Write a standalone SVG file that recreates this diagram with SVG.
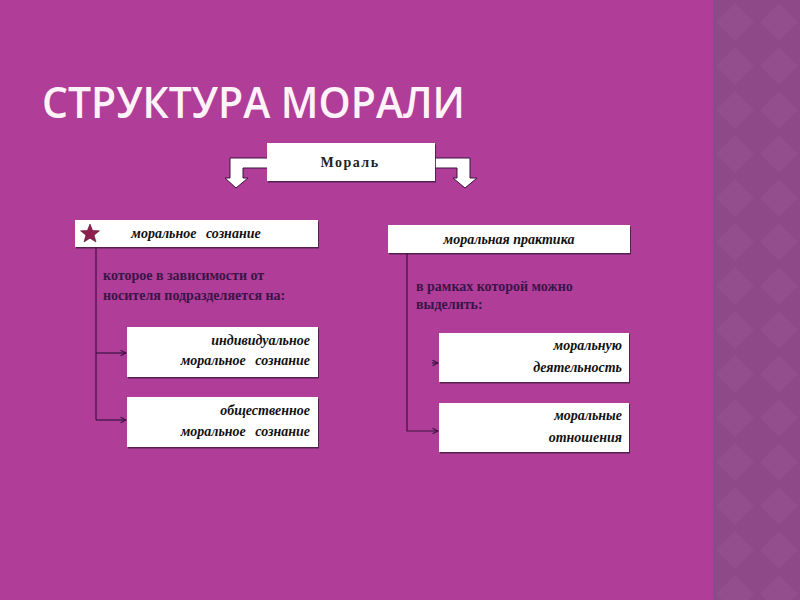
<svg xmlns="http://www.w3.org/2000/svg" width="800" height="600" viewBox="0 0 800 600">
<defs>
<pattern id="dia" x="713" y="0" width="44" height="44" patternUnits="userSpaceOnUse">
<rect width="44" height="44" fill="#8e4a88"/>
<polygon points="22,3 41,22 22,41 3,22" fill="#934e8d"/>
</pattern>
<marker id="ah" viewBox="0 0 8 8" refX="7" refY="4" markerWidth="6" markerHeight="6" orient="auto">
<path d="M1,1 L7,4 L1,7" fill="none" stroke="#3b1240" stroke-width="1.2"/>
</marker>
<filter id="sh" x="-5%" y="-10%" width="110%" height="130%">
<feDropShadow dx="1" dy="1.5" stdDeviation="0.6" flood-color="#3b1240" flood-opacity="0.8"/>
</filter>
</defs>
<style>
.box{fill:#ffffff;filter:url(#sh)}
.lbl{font-family:"Liberation Serif",serif;font-weight:bold;font-style:italic;font-size:14px;fill:#111}
.note{font-family:"Liberation Serif",serif;font-weight:bold;font-size:14px;fill:#3a1448}
.ln{fill:none;stroke:#3b1240;stroke-width:1.2}
.arr{fill:#ffffff;stroke:#3b1240;stroke-width:1}
</style>
<rect width="800" height="600" fill="#b03d98"/>
<rect x="713" y="0" width="87" height="600" fill="url(#dia)"/>
<text x="42" y="118" font-family="'Open Sans','DejaVu Sans',sans-serif" font-size="44" font-weight="600" fill="#fff3fa" textLength="423" lengthAdjust="spacingAndGlyphs">СТРУКТУРА МОРАЛИ</text>

<g id="connectors">
<path class="arr" d="M267,158 L230,158 L230,178 L225,178 L236,188 L248,178 L243,178 L243,168 L267,168"/>
<path class="arr" d="M435,158 L470,158 L470,178 L477,178 L465,188 L453,178 L457,178 L457,168 L435,168"/>
<path class="ln" d="M96,247 V420"/>
<path class="ln" d="M96,353 H126" marker-end="url(#ah)"/>
<path class="ln" d="M96,420 H126" marker-end="url(#ah)"/>
<path class="ln" d="M407,253 V431 H438" marker-end="url(#ah)"/>
<path class="ln" d="M432,363 H438" marker-end="url(#ah)"/>
</g>

<g id="n-moral">
<rect class="box" x="267" y="143" width="168" height="38"/>
<text x="350" y="167" text-anchor="middle" font-family="'Liberation Serif',serif" font-weight="bold" font-size="14" letter-spacing="1.5" fill="#222">Мораль</text>
</g>

<g id="n-soznanie">
<rect class="box" x="75" y="220" width="243" height="27"/>
<polygon points="90,224 92.6,230.5 99.5,230.8 94.1,235.2 96,242 90,238.2 84,242 85.9,235.2 80.5,230.8 87.4,230.5" fill="#8e1f4e" stroke="#5a1030" stroke-width="0.6"/>
<text class="lbl" x="196" y="238" text-anchor="middle" word-spacing="6">моральное сознание</text>
</g>

<g id="n-note-left">
<text class="note" x="103" y="280">которое в зависимости от</text>
<text class="note" x="103" y="300">носителя подразделяется на:</text>
</g>

<g id="n-indiv">
<rect class="box" x="127" y="327" width="191" height="50"/>
<text class="lbl" x="310" y="345" text-anchor="end">индивидуальное</text>
<text class="lbl" x="310" y="365" text-anchor="end" word-spacing="6">моральное сознание</text>
</g>

<g id="n-obsch">
<rect class="box" x="127" y="397" width="191" height="50"/>
<text class="lbl" x="310" y="415" text-anchor="end">общественное</text>
<text class="lbl" x="310" y="436" text-anchor="end" word-spacing="6">моральное сознание</text>
</g>

<g id="n-praktika">
<rect class="box" x="388" y="225" width="242" height="28"/>
<text class="lbl" x="509" y="244" text-anchor="middle">моральная практика</text>
</g>

<g id="n-note-right">
<text class="note" x="416" y="291">в рамках которой можно</text>
<text class="note" x="416" y="309">выделить:</text>
</g>

<g id="n-deyat">
<rect class="box" x="439" y="333" width="190" height="49"/>
<text class="lbl" x="622" y="350" text-anchor="end">моральную</text>
<text class="lbl" x="622" y="372" text-anchor="end">деятельность</text>
</g>

<g id="n-otnosh">
<rect class="box" x="439" y="403" width="190" height="49"/>
<text class="lbl" x="622" y="420" text-anchor="end">моральные</text>
<text class="lbl" x="622" y="442" text-anchor="end">отношения</text>
</g>
</svg>
